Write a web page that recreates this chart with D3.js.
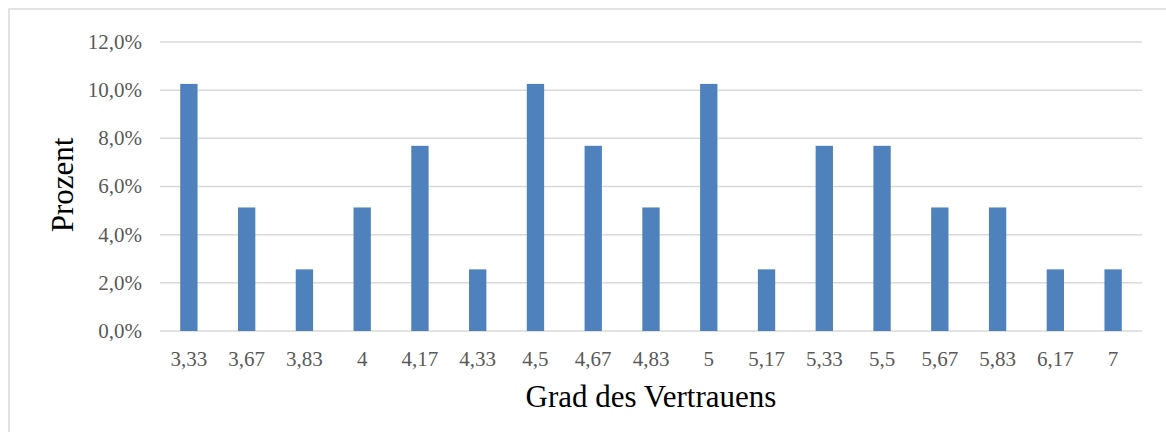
<!DOCTYPE html>
<html>
<head>
<meta charset="utf-8">
<script src="https://cdn.jsdelivr.net/npm/d3@7"></script>
<style>
  body { margin: 0; background: #fff; }
  text { font-family: "Liberation Serif", "Times New Roman", serif; }
</style>
</head>
<body>
<svg id="chart" width="1166" height="432"></svg>
<script>
// Grad des Vertrauens -> Anteil (n = 39)
const categories = ["3,33", "3,67", "3,83", "4", "4,17", "4,33", "4,5", "4,67", "4,83",
  "5", "5,17", "5,33", "5,5", "5,67", "5,83", "6,17", "7"];
const percent = [10.26, 5.13, 2.56, 5.13, 7.69, 2.56, 10.26, 7.69, 5.13,
  10.26, 2.56, 7.69, 7.69, 5.13, 5.13, 2.56, 2.56];
const yTicks = [0, 2, 4, 6, 8, 10, 12];

const svg = d3.select("#chart");
const margin = { left: 160, right: 1142, top: 42, bottom: 331 };

// outer chart frame
svg.append("rect")
  .attr("x", 9).attr("y", 9)
  .attr("width", 1170).attr("height", 440)
  .attr("fill", "none").attr("stroke", "#d9d9d9").attr("stroke-width", 1.5);

const x = d3.scaleBand()
  .domain(categories)
  .range([margin.left, margin.right])
  .paddingInner(0.7).paddingOuter(0.35);

const y = d3.scaleLinear()
  .domain([0, 12])
  .range([margin.bottom, margin.top]);

const fmt = v => d3.format(".1f")(v).replace(".", ",") + "%";

// gridlines
svg.append("g")
  .selectAll("line")
  .data(yTicks)
  .join("line")
  .attr("x1", margin.left).attr("x2", margin.right)
  .attr("y1", d => y(d)).attr("y2", d => y(d))
  .attr("stroke", "#d9d9d9").attr("stroke-width", 1.5);

// bars
svg.append("g")
  .selectAll("rect")
  .data(percent)
  .join("rect")
  .attr("x", (d, i) => x(categories[i]))
  .attr("width", x.bandwidth())
  .attr("y", d => y(d))
  .attr("height", d => y(0) - y(d))
  .attr("fill", "#4f81bd");

// y labels
svg.append("g")
  .selectAll("text")
  .data(yTicks)
  .join("text")
  .attr("x", 142)
  .attr("y", d => y(d))
  .attr("dy", "0.33em")
  .attr("text-anchor", "end")
  .attr("font-size", 21)
  .attr("fill", "#595959")
  .text(fmt);

// x labels
svg.append("g")
  .selectAll("text")
  .data(categories)
  .join("text")
  .attr("x", d => x(d) + x.bandwidth() / 2)
  .attr("y", 366)
  .attr("text-anchor", "middle")
  .attr("font-size", 21)
  .attr("fill", "#595959")
  .text(d => d);

// axis titles
svg.append("text")
  .attr("x", (margin.left + margin.right) / 2)
  .attr("y", 407)
  .attr("text-anchor", "middle")
  .attr("font-size", 31)
  .attr("fill", "#000")
  .text("Grad des Vertrauens");

svg.append("text")
  .attr("transform", "translate(73,185) rotate(-90)")
  .attr("text-anchor", "middle")
  .attr("font-size", 31)
  .attr("fill", "#000")
  .text("Prozent");
</script>
</body>
</html>
